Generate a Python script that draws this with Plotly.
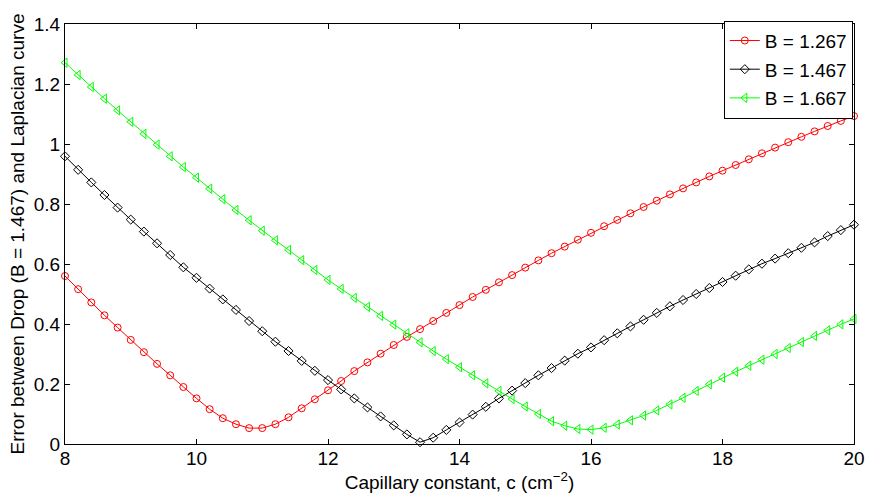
import plotly.graph_objects as go

# Capillary constant grid, c (cm^-2)
capillary_c = [
    8.0, 8.2, 8.4, 8.6, 8.8, 9.0, 9.2, 9.4, 9.6, 9.8,
    10.0, 10.2, 10.4, 10.6, 10.8, 11.0, 11.2, 11.4, 11.6, 11.8,
    12.0, 12.2, 12.4, 12.6, 12.8, 13.0, 13.2, 13.4, 13.6, 13.8,
    14.0, 14.2, 14.4, 14.6, 14.8, 15.0, 15.2, 15.4, 15.6, 15.8,
    16.0, 16.2, 16.4, 16.6, 16.8, 17.0, 17.2, 17.4, 17.6, 17.8,
    18.0, 18.2, 18.4, 18.6, 18.8, 19.0, 19.2, 19.4, 19.6, 19.8,
    20.0,
]

# Error between drop (B = 1.467) and Laplacian curve for each trial B
err_b1267 = [
    0.560, 0.516, 0.472, 0.429, 0.388, 0.347, 0.306, 0.267, 0.229, 0.190,
    0.152, 0.116, 0.086, 0.066, 0.053, 0.053, 0.066, 0.089, 0.119, 0.149,
    0.179, 0.210, 0.243, 0.272, 0.301, 0.330, 0.357, 0.383, 0.410, 0.437,
    0.463, 0.490, 0.514, 0.539, 0.563, 0.588, 0.612, 0.636, 0.658, 0.681,
    0.704, 0.726, 0.747, 0.769, 0.790, 0.811, 0.832, 0.852, 0.872, 0.892,
    0.911, 0.930, 0.949, 0.969, 0.988, 1.006, 1.024, 1.042, 1.060, 1.077,
    1.093,
]
err_b1467 = [
    0.959, 0.914, 0.872, 0.830, 0.788, 0.748, 0.708, 0.669, 0.630, 0.589,
    0.554, 0.518, 0.482, 0.447, 0.410, 0.376, 0.341, 0.310, 0.277, 0.244,
    0.213, 0.182, 0.152, 0.122, 0.092, 0.062, 0.032, 0.006, 0.021, 0.047,
    0.072, 0.098, 0.124, 0.152, 0.178, 0.203, 0.229, 0.253, 0.278, 0.301,
    0.322, 0.346, 0.369, 0.392, 0.414, 0.437, 0.459, 0.480, 0.500, 0.520,
    0.540, 0.561, 0.582, 0.601, 0.618, 0.636, 0.654, 0.672, 0.693, 0.713,
    0.731,
]
err_b1667 = [
    1.271, 1.230, 1.190, 1.151, 1.112, 1.074, 1.034, 0.998, 0.959, 0.923,
    0.888, 0.851, 0.816, 0.780, 0.746, 0.711, 0.679, 0.647, 0.613, 0.580,
    0.547, 0.517, 0.487, 0.457, 0.427, 0.398, 0.369, 0.339, 0.310, 0.283,
    0.256, 0.229, 0.202, 0.177, 0.150, 0.125, 0.100, 0.076, 0.061, 0.050,
    0.048, 0.054, 0.065, 0.079, 0.095, 0.112, 0.132, 0.154, 0.177, 0.199,
    0.221, 0.241, 0.261, 0.281, 0.300, 0.320, 0.340, 0.360, 0.379, 0.399,
    0.417,
]

series = [
    ("B = 1.267", err_b1267, "#ff0000", "circle-open", 7),
    ("B = 1.467", err_b1467, "#000000", "diamond-open", 7),
    ("B = 1.667", err_b1667, "#00ff00", "triangle-left-open", 8),
]

FONT = "Liberation Sans, Arial, Helvetica, sans-serif"

fig = go.Figure()
for i, (name, vals, color, symbol, size) in enumerate(series):
    fig.add_trace(go.Scatter(
        x=capillary_c,
        y=vals,
        name=name,
        legendgroup=f"g{i}",
        mode="lines+markers",
        line=dict(color=color, width=1),
        marker=dict(symbol=symbol, size=size, color=color,
                    line=dict(color=color, width=1)),
        cliponaxis=False,
    ))

axis_common = dict(
    showline=True,
    linecolor="black",
    linewidth=1,
    mirror="ticks",
    ticks="inside",
    ticklen=5,
    tickwidth=1,
    tickcolor="black",
    showgrid=False,
    zeroline=False,
    tickfont=dict(family=FONT, size=19, color="black"),
)

fig.update_xaxes(
    range=[8, 20],
    tick0=8,
    dtick=2,
    ticklabelstandoff=-3,
    title=dict(text="Capillary constant, c (cm<sup>\u22122</sup>)",
               font=dict(family=FONT, size=19, color="black"),
               standoff=0),
    **axis_common,
)
fig.update_yaxes(
    range=[0, 1.4],
    tick0=0,
    dtick=0.2,
    title=dict(text="Error between Drop (B = 1.467) and Laplacian curve",
               font=dict(family=FONT, size=19, color="black"),
               standoff=4),
    **axis_common,
)

fig.update_layout(
    width=869,
    height=498,
    margin=dict(l=65, r=15, t=24, b=54, autoexpand=False),
    paper_bgcolor="white",
    plot_bgcolor="white",
    font=dict(family=FONT, size=19, color="black"),
    legend=dict(
        x=0.9985, y=1.008, xanchor="right", yanchor="top",
        bgcolor="white",
        bordercolor="black",
        borderwidth=1,
        font=dict(family=FONT, size=19, color="black"),
        tracegroupgap=1,
        itemwidth=30,
    ),
)

fig.write_html("out.html")
